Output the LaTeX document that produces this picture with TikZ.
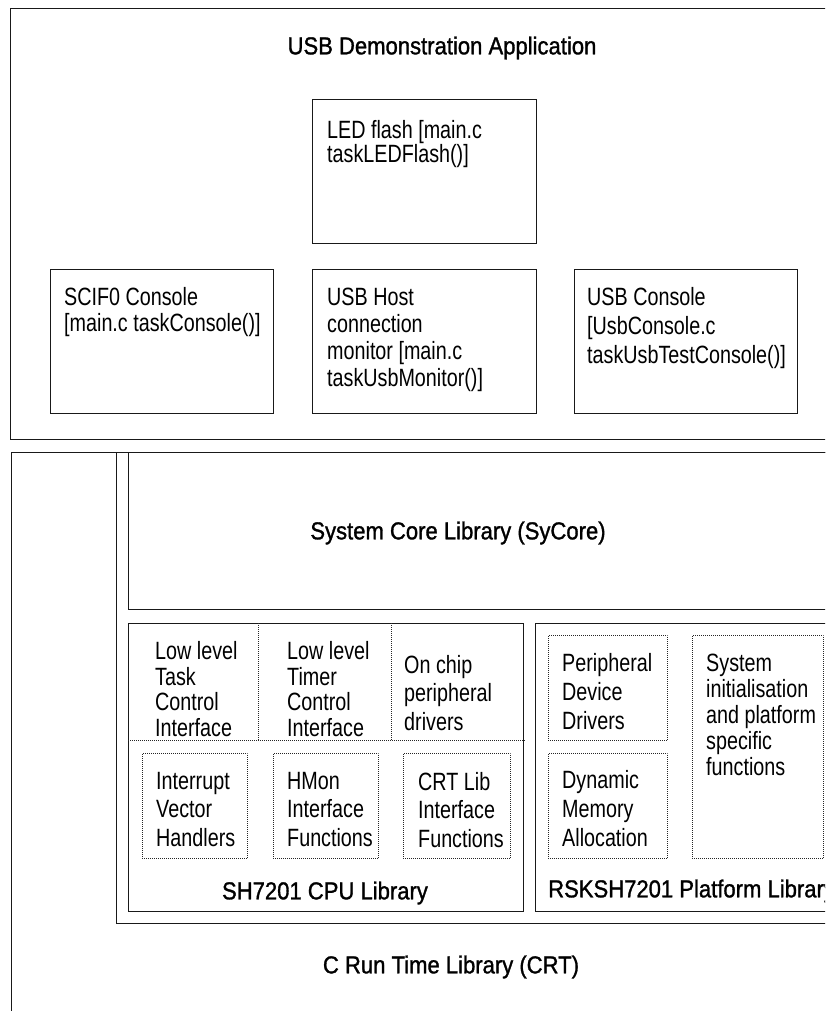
\documentclass[tikz,border=0pt]{standalone}
\usepackage{fontspec}
\usepackage{tikz}
\usetikzlibrary{calc}
\newfontfamily\narrowfont[FakeStretch=0.79]{Liberation Sans}
\newfontfamily\titlefont[FakeStretch=0.9,FakeBold=1.2]{Liberation Sans}
\tikzset{
  blk/.style={draw=black!90, line width=1.4pt, rectangle, inner sep=0pt, anchor=north west},
  dots/.style={draw=black!85, line width=0.8pt, dash pattern=on 0.8pt off 1.2pt},
  dotbox/.style={dots, rectangle, inner sep=0pt, anchor=north west},
  txt/.style={anchor=north west, align=left, inner sep=0pt, font=\narrowfont\fontsize{25}{#1}\selectfont},
  txt/.default=26,
  ttl/.style={inner sep=0pt, font=\titlefont\fontsize{24.5}{28}\selectfont},
}

\begin{document}
\begin{tikzpicture}[x=1pt, y=-1pt]
        \useasboundingbox (0,0) rectangle (825,1011);
        \fill[white] (0,0) rectangle (825,1011);
        \clip (0,0) rectangle (825,1011);
        % application layer
        \node[blk, minimum width=880, minimum height=431] (app) at (10,8) {};
        \node[ttl] (apptitle) at (442,48) {USB Demonstration Application};
        \node[blk, minimum width=224, minimum height=144] (led) at (312,99) {};
        \node[blk, minimum width=223, minimum height=144] (scif) at (50,269) {};
        \node[blk, minimum width=224, minimum height=144] (host) at (312,269) {};
        \node[blk, minimum width=223, minimum height=144] (usbcon) at (574,269) {};
        \node[txt=23] (ledtext) at ($(led.north west)+(15,21)$) {LED flash [main.c\\taskLEDFlash()]};
        \node[txt] (sciftext) at ($(scif.north west)+(14,18)$) {SCIF0 Console\\{[}main.c taskConsole()]};
        \node[txt=27] (hosttext) at ($(host.north west)+(15,19)$) {USB Host\\connection\\monitor [main.c\\taskUsbMonitor()]};
        \node[txt=29] (usbcontext) at ($(usbcon.north west)+(13,18)$) {USB Console\\{[}UsbConsole.c\\taskUsbTestConsole()]};
        % libraries
        \node[blk, minimum width=900, minimum height=600] (crt) at (11,452) {};
        \node[blk, minimum width=800, minimum height=471] (base) at (116,452) {};
        \node[blk, minimum width=800, minimum height=157] (sycore) at (128,452) {};
        \node[ttl] (sycoretitle) at (458,533) {System Core Library (SyCore)};
        \node[ttl] (crttitle) at (451,967) {C Run Time Library (CRT)};
        % cpu library
        \node[blk, minimum width=395, minimum height=288] (cpu) at (128,623) {};
        \draw[dots] (cpu.west |- 0,740) -- (cpu.east |- 0,740);
        \draw[dots] (258,623) -- (258,740);
        \draw[dots] (391,623) -- (391,740);
        \node[txt=25.7] (lowtask) at ($(cpu.north west)+(27,18)$) {Low level\\Task\\Control\\Interface};
        \node[txt=25.7] (lowtimer) at ($(cpu.north west)+(159,18)$) {Low level\\Timer\\Control\\Interface};
        \node[txt=28.5] (onchip) at ($(cpu.north west)+(276,32)$) {On chip\\peripheral\\drivers};
        \node[dotbox, minimum width=105, minimum height=105] (irq) at (142,753) {};
        \node[dotbox, minimum width=105, minimum height=105] (hmon) at (273,753) {};
        \node[dotbox, minimum width=107, minimum height=105] (crtlib) at (403,753) {};
        \node[txt=28.5] (irqtext) at ($(irq.north west)+(14,19)$) {Interrupt\\Vector\\Handlers};
        \node[txt=28.5] (hmontext) at ($(hmon.north west)+(14,19)$) {HMon\\Interface\\Functions};
        \node[txt=28.5] (crtlibtext) at ($(crtlib.north west)+(15,19)$) {CRT Lib\\Interface\\Functions};
        \node[ttl] (cputitle) at (325,893) {SH7201 CPU Library};
        % platform library
        \node[blk, minimum width=400, minimum height=288] (plat) at (535,623) {};
        \node[dotbox, minimum width=119, minimum height=105] (periph) at (548,635) {};
        \node[dotbox, minimum width=119, minimum height=105] (dynmem) at (548,753) {};
        \node[dotbox, minimum width=131, minimum height=223] (sysinit) at (692,635) {};
        \node[txt=29] (periphtext) at ($(periph.north west)+(14,18)$) {Peripheral\\Device\\Drivers};
        \node[txt=29] (dynmemtext) at ($(dynmem.north west)+(14,17)$) {Dynamic\\Memory\\Allocation};
        \node[txt=26] (sysinittext) at ($(sysinit.north west)+(14,19)$) {System\\initialisation\\and platform\\specific\\functions};
        \node[ttl, anchor=west] (plattitle) at (548,891) {RSKSH7201 Platform Library};
    \end{tikzpicture}
\end{document}
